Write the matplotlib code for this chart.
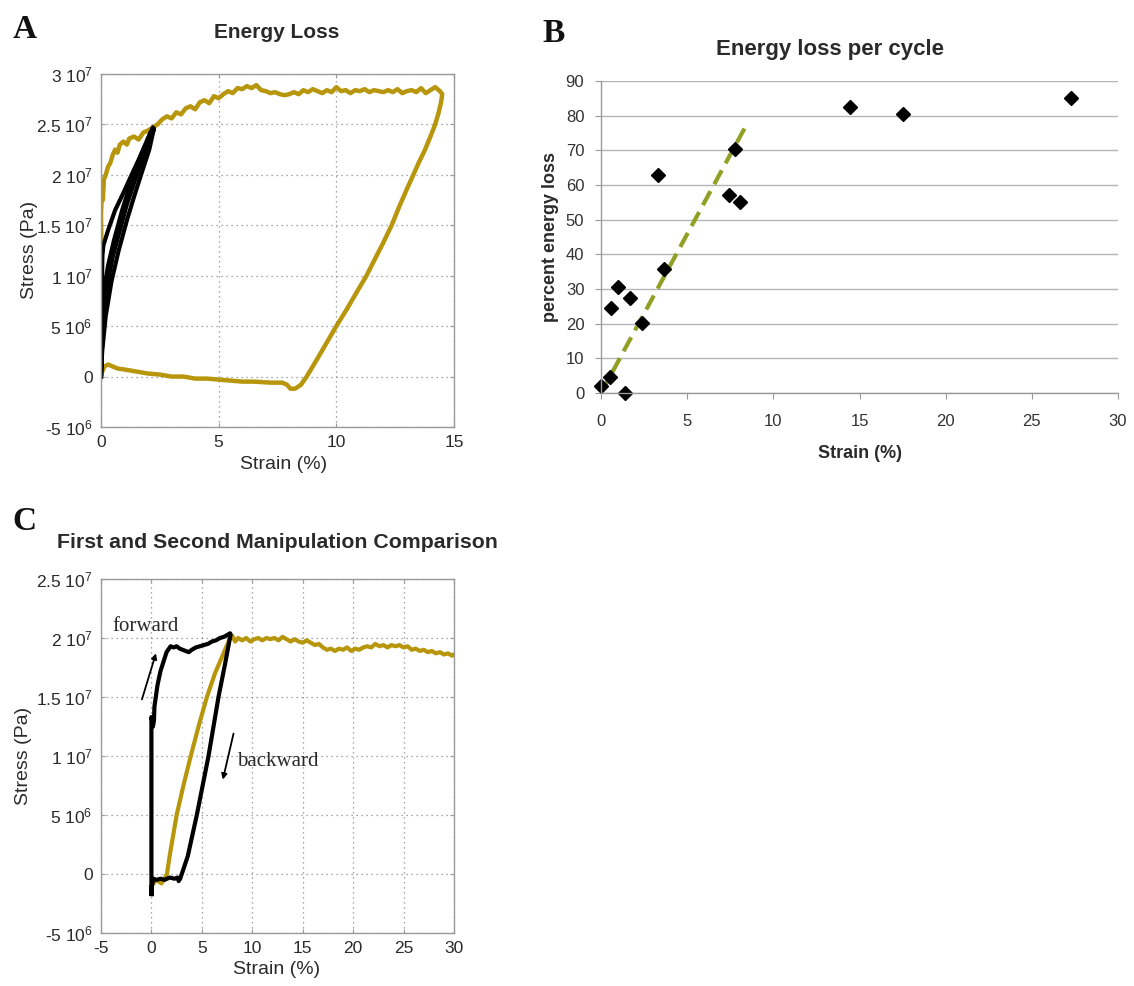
import matplotlib
matplotlib.use("Agg")
import matplotlib.pyplot as plt

plt.rcParams['font.family'] = ['Liberation Sans', 'DejaVu Sans']
plt.rcParams['mathtext.fontset'] = 'custom'
plt.rcParams['mathtext.rm'] = 'Liberation Sans'
plt.rcParams['mathtext.it'] = 'Liberation Sans'
plt.rcParams['axes.unicode_minus'] = False

# ---------------- Panel A data (strain %, stress in 1e7 Pa) ----------------
a_gold_strain = [0, 0.0, 0.02, 0.0, 0.04, 0.08, 0.12, 0.2, 0.3, 0.4, 0.5, 0.6, 0.7, 0.8, 0.95, 1.1, 1.2,
                 1.4, 1.6, 1.8, 2.0, 2.2, 2.4, 2.6, 2.8, 3.0, 3.2, 3.4, 3.6, 3.8, 4.0, 4.2, 4.4, 4.6, 4.8,
                 5.0, 5.2, 5.4, 5.6, 5.8, 6.0, 6.2, 6.4, 6.6, 6.8, 7.0, 7.2, 7.4, 7.6, 7.8, 8.0, 8.2, 8.4,
                 8.6, 8.8, 9.0, 9.2, 9.4, 9.6, 9.8, 10.0, 10.2, 10.4, 10.6, 10.8, 11.0, 11.2, 11.4, 11.6,
                 11.8, 12.0, 12.2, 12.4, 12.6, 12.8, 13.0, 13.2, 13.4, 13.6, 13.8, 14.0, 14.2, 14.4, 14.5,
                 14.45, 14.35, 14.2, 14.0, 13.75, 13.5, 13.27, 13.0, 12.7, 12.35, 12.0, 11.65, 11.28,
                 10.9, 10.45, 10.0, 9.6, 9.2, 8.74, 8.5, 8.25, 8.05, 7.9, 7.7, 7.2, 6.5, 6.0, 5.5, 5.0,
                 4.5, 4.0, 3.5, 3.0, 2.5, 2.0, 1.5, 1.0, 0.7, 0.5, 0.3, 0.15, 0.05, 0]
a_gold_stress = [0, 0.6, 1.3, 1.6, 1.85, 1.75, 1.95, 2.0, 2.08, 2.12, 2.2, 2.25, 2.22, 2.3, 2.33, 2.3, 2.36,
                 2.38, 2.35, 2.42, 2.44, 2.47, 2.5, 2.55, 2.58, 2.56, 2.62, 2.6, 2.66, 2.68, 2.65, 2.72,
                 2.74, 2.71, 2.78, 2.76, 2.8, 2.83, 2.81, 2.86, 2.85, 2.88, 2.86, 2.89, 2.84, 2.83, 2.81,
                 2.82, 2.8, 2.79, 2.8, 2.82, 2.8, 2.84, 2.82, 2.85, 2.83, 2.81, 2.84, 2.82, 2.87, 2.83,
                 2.84, 2.81, 2.84, 2.83, 2.85, 2.82, 2.84, 2.83, 2.82, 2.84, 2.82, 2.85, 2.81, 2.83, 2.84,
                 2.82, 2.86, 2.81, 2.84, 2.87, 2.83, 2.8,
                 2.72, 2.62, 2.5, 2.38, 2.24, 2.12, 2.0, 1.86, 1.7, 1.5, 1.33, 1.17, 1.0,
                 0.85, 0.67, 0.5, 0.34, 0.18, 0.0, -0.08, -0.12, -0.12, -0.08, -0.06, -0.06, -0.05, -0.05,
                 -0.04, -0.03, -0.02, -0.02, 0.0, 0.0, 0.02, 0.03, 0.05, 0.07, 0.08, 0.1, 0.12, 0.1, 0.05, 0]

a_black1_strain = [0, 0.02, 0.04, 0.06, 0.1, 0.3, 0.6, 0.95, 1.3, 1.66, 1.95, 2.2, 2.25, 2.0, 1.8, 1.45,
                   1.09, 0.8, 0.5, 0.3, 0.14, 0.06, 0]
a_black1_stress = [0, 0.5, 0.9, 1.2, 1.3, 1.45, 1.65, 1.82, 2.0, 2.18, 2.33, 2.47, 2.45, 2.3, 2.18, 1.95,
                   1.7, 1.45, 1.19, 0.95, 0.73, 0.4, 0]
a_black2_strain = [0, 0.05, 0.12, 0.3, 0.55, 0.9, 1.3, 1.7, 2.1, 2.25, 2.05, 1.7, 1.4, 1.1, 0.75, 0.45,
                   0.2, 0.05, 0]
a_black2_stress = [0, 0.5, 0.85, 1.1, 1.35, 1.65, 1.95, 2.2, 2.42, 2.46, 2.25, 2.0, 1.78, 1.55, 1.25, 0.95,
                   0.6, 0.25, 0]

a_yticks = [-0.5, 0, 0.5, 1.0, 1.5, 2.0, 2.5, 3.0]
a_yticklabels = ['-5 10$^6$', '0', '5 10$^6$', '1 10$^7$', '1.5 10$^7$', '2 10$^7$', '2.5 10$^7$', '3 10$^7$']
a_xticks = [0, 5, 10, 15]

# ---------------- Panel B data ----------------
b_strain = [0.0, 0.5, 0.6, 1.0, 1.4, 1.66, 2.38, 3.29, 3.63, 7.41, 7.78, 8.05, 14.42, 17.55, 27.26]
b_loss = [2.0, 4.5, 24.5, 30.5, 0.0, 27.5, 20.2, 62.8, 35.8, 57.0, 70.5, 55.0, 82.5, 80.5, 85.0]
b_fit_strain = [0.0, 8.4]
b_fit_loss = [0.0, 77.0]
b_yticks = list(range(0, 91, 10))
b_xticks = [0, 5, 10, 15, 20, 25, 30]

# ---------------- Panel C data ----------------
c_black_strain = [0, 0, 0, 0, 0.15, 0.25, 0.3, 0.6, 0.9, 1.2, 1.5, 1.9, 2.2, 2.5, 2.8, 3.1, 3.4, 3.7, 4.0,
                  4.4, 4.8, 5.2, 5.6, 6.0, 6.4, 6.8, 7.2, 7.6, 7.8, 7.85, 7.3, 6.65, 5.66, 4.5, 3.6, 2.85,
                  2.7, 2.6, 2.3, 1.8, 1.3, 0.9, 0.5, 0.2, 0.05, 0]
c_black_stress = [-0.17, 0.5, 1.0, 1.33, 1.25, 1.3, 1.42, 1.6, 1.72, 1.8, 1.88, 1.93, 1.92, 1.93, 1.91,
                  1.9, 1.89, 1.88, 1.9, 1.92, 1.93, 1.94, 1.95, 1.97, 1.98, 2.0, 2.01, 2.03, 2.04, 2.03,
                  1.78, 1.5, 1.0, 0.5, 0.15, -0.04, -0.06, -0.03, -0.04, -0.03, -0.05, -0.04, -0.05, -0.04,
                  -0.1, -0.17]
c_gold_strain = [0, 0.5, 1.0, 1.54, 1.8, 2.1, 2.5, 3.2, 3.9, 4.7, 5.5, 6.3, 7.1, 7.8, 8.0, 8.3, 8.6, 9.0,
                 9.4, 9.8, 10.2, 10.6, 11.0, 11.4, 11.8, 12.2, 12.6, 13.0, 13.4, 13.8, 14.2, 14.6, 15.0,
                 15.4, 15.8, 16.2, 16.6, 17.0, 17.4, 17.8, 18.2, 18.6, 19.0, 19.4, 19.8, 20.2, 20.6, 21.0,
                 21.4, 21.8, 22.2, 22.6, 23.0, 23.4, 23.8, 24.2, 24.6, 25.0, 25.4, 25.8, 26.2, 26.6, 27.0,
                 27.4, 27.8, 28.2, 28.6, 29.0, 29.4, 29.8, 30.0]
c_gold_stress = [-0.1, -0.05, -0.08, 0.0, 0.15, 0.3, 0.5, 0.76, 1.0, 1.26, 1.5, 1.7, 1.86, 2.0, 2.02, 1.97,
                 2.0, 1.98, 2.0, 1.97, 1.99, 2.0, 1.98, 2.0, 1.99, 2.0, 1.98, 2.01, 1.99, 1.97, 1.99, 1.97,
                 1.96, 1.98, 1.96, 1.94, 1.95, 1.92, 1.9, 1.91, 1.89, 1.91, 1.9, 1.92, 1.89, 1.91, 1.9,
                 1.92, 1.93, 1.92, 1.95, 1.93, 1.94, 1.92, 1.94, 1.93, 1.94, 1.92, 1.93, 1.9, 1.91, 1.89,
                 1.9, 1.88, 1.89, 1.87, 1.88, 1.86, 1.87, 1.85, 1.86]
c_yticks = [-0.5, 0, 0.5, 1.0, 1.5, 2.0, 2.5]
c_yticklabels = ['-5 10$^6$', '0', '5 10$^6$', '1 10$^7$', '1.5 10$^7$', '2 10$^7$', '2.5 10$^7$']
c_xticks = [-5, 0, 5, 10, 15, 20, 25, 30]

GOLD = '#B8960C'
GREEN = '#8FA024'
TXT = '#2a2a2a'
SPINE = '#9a9a9a'

fig = plt.figure(figsize=(11.34, 9.86), dpi=100)
W, H = 1134.0, 986.0

def ax_rect(l, t, r, b):
    return [l / W, 1 - b / H, (r - l) / W, (b - t) / H]

def style_matlab(ax):
    for s in ax.spines.values():
        s.set_color(SPINE)
        s.set_linewidth(1.0)
    ax.grid(True, color='#8a8a8a', linestyle=(0, (1, 3)), linewidth=0.9)
    ax.tick_params(direction='in', length=3, color=SPINE, labelsize=12.5, labelcolor=TXT,
                   top=True, right=True, pad=6)

def place_labels(ax, l, t, r, b, xl, yl):
    w, h = r - l, b - t
    ax.xaxis.label.set_va('center')
    ax.yaxis.label.set_va('center')
    ax.xaxis.set_label_coords((xl[0] - l) / w, (b - xl[1]) / h)
    ax.yaxis.set_label_coords((yl[0] - l) / w, (b - yl[1]) / h)

# ---------------- Panel A ----------------
A = (101, 74, 454, 427)
axA = fig.add_axes(ax_rect(*A))
axA.plot(a_gold_strain, a_gold_stress, color=GOLD, lw=3.2, solid_joinstyle='round')
axA.plot(a_black1_strain, a_black1_stress, color='black', lw=3.0, solid_joinstyle='round')
axA.plot(a_black2_strain, a_black2_stress, color='black', lw=3.0, solid_joinstyle='round')
axA.set_xlim(0, 15)
axA.set_ylim(-0.5, 3.0)
axA.set_xticks(a_xticks)
axA.set_yticks(a_yticks)
axA.set_yticklabels(a_yticklabels)
style_matlab(axA)
axA.set_xlabel('Strain (%)', fontsize=14, color=TXT)
axA.set_ylabel('Stress (Pa)', fontsize=14, color=TXT)
place_labels(axA, *A, xl=(284, 465), yl=(30, 250))
fig.text(277 / W, 1 - 33 / H, 'Energy Loss', ha='center', va='center', fontsize=15,
         fontweight='bold', color=TXT)
fig.text(25 / W, 1 - 29 / H, 'A', ha='center', va='center', fontsize=24, fontweight='bold',
         family='Liberation Serif', color='#111111')

# ---------------- Panel B ----------------
B = (601, 81, 1118, 393)
axB = fig.add_axes(ax_rect(*B))
axB.plot(b_fit_strain, b_fit_loss, color=GREEN, lw=3.0, linestyle=(0, (3.8, 1.9)))
axB.plot(b_strain, b_loss, linestyle='none', marker='D', markersize=7, color='black', clip_on=False)
axB.set_xlim(0, 30)
axB.set_ylim(0, 90)
axB.set_xticks(b_xticks)
axB.set_yticks(b_yticks)
axB.yaxis.grid(True, color='#b5b5b5', linewidth=1.0)
axB.set_axisbelow(True)
for s in ['top', 'right']:
    axB.spines[s].set_visible(False)
for s in ['left', 'bottom']:
    axB.spines[s].set_color('#9a9a9a')
    axB.spines[s].set_linewidth(1.0)
axB.tick_params(direction='out', length=4, color='#9a9a9a', labelsize=12, labelcolor='#333333')
axB.tick_params(axis='x', pad=11)
axB.tick_params(axis='y', pad=8)
axB.set_xlabel('Strain (%)', fontsize=13, fontweight='bold', color=TXT)
axB.set_ylabel('percent energy loss', fontsize=13, fontweight='bold', color=TXT)
place_labels(axB, *B, xl=(860, 453), yl=(550, 237))
fig.text(830 / W, 1 - 49 / H, 'Energy loss per cycle', ha='center', va='center', fontsize=16,
         fontweight='bold', color=TXT)
fig.text(554 / W, 1 - 33 / H, 'B', ha='center', va='center', fontsize=24, fontweight='bold',
         family='Liberation Serif', color='#111111')

# ---------------- Panel C ----------------
C = (101, 579, 454, 933)
axC = fig.add_axes(ax_rect(*C))
axC.plot(c_gold_strain, c_gold_stress, color=GOLD, lw=3.0, solid_joinstyle='round')
axC.plot(c_black_strain, c_black_stress, color='black', lw=3.0, solid_joinstyle='round')
axC.set_xlim(-5, 30)
axC.set_ylim(-0.5, 2.5)
axC.set_xticks(c_xticks)
axC.set_yticks(c_yticks)
axC.set_yticklabels(c_yticklabels)
style_matlab(axC)
axC.set_xlabel('Strain (%)', fontsize=14, color=TXT)
axC.set_ylabel('Stress (Pa)', fontsize=14, color=TXT)
place_labels(axC, *C, xl=(277, 970), yl=(24, 756))
axC.text(-3.9, 2.1, 'forward', family='Liberation Serif', fontsize=15, ha='left', va='center', color=TXT)
axC.text(8.5, 0.95, 'backward', family='Liberation Serif', fontsize=15, ha='left', va='center', color=TXT)
axC.annotate('', xy=(0.45, 1.87), xytext=(-0.94, 1.48),
             arrowprops=dict(arrowstyle='-|>', lw=1.3, color='black', mutation_scale=8,
                             shrinkA=0, shrinkB=0))
axC.annotate('', xy=(7.08, 0.8), xytext=(8.14, 1.19),
             arrowprops=dict(arrowstyle='-|>', lw=1.3, color='black', mutation_scale=8,
                             shrinkA=0, shrinkB=0))
fig.text(277 / W, 1 - 542 / H, 'First and Second Manipulation Comparison', ha='center', va='center',
         fontsize=15.3, fontweight='bold', color=TXT)
fig.text(24 / W, 1 - 521 / H, 'C', ha='center', va='center', fontsize=24, fontweight='bold',
         family='Liberation Serif', color='#111111')

fig.savefig('out.png', dpi=100, facecolor='white')
